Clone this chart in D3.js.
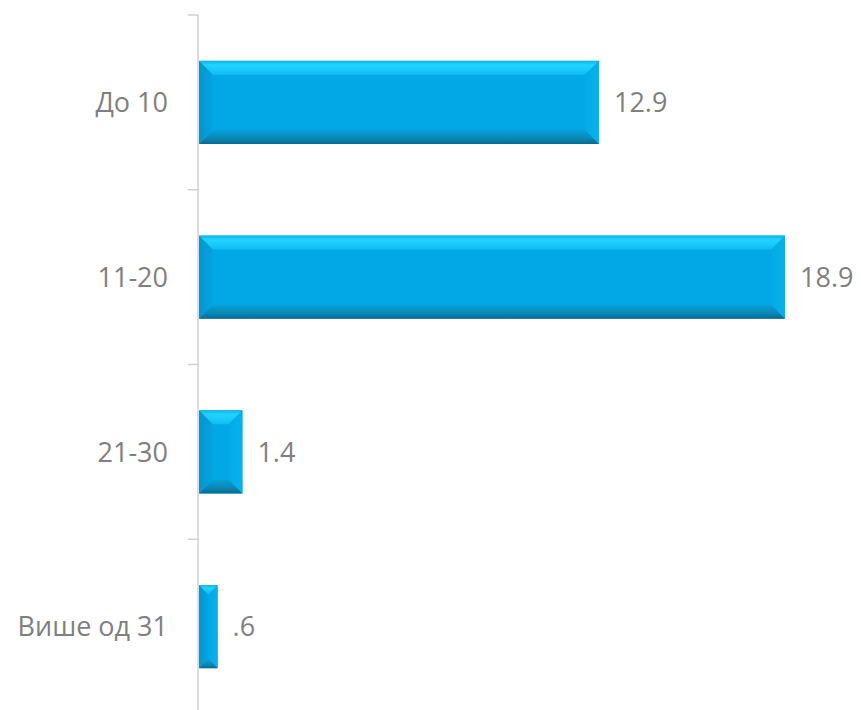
<!DOCTYPE html>
<html>
<head>
<meta charset="utf-8">
<script src="https://cdn.jsdelivr.net/npm/d3@7/dist/d3.min.js"></script>
<style>
  html, body { margin: 0; padding: 0; background: #ffffff; }
  svg { display: block; }
</style>
</head>
<body>
<svg id="chart" width="861" height="710"></svg>
<script>
const categories = ["До 10", "11-20", "21-30", "Више од 31"];
const values = [12.9, 18.9, 1.4, 0.6];
const valueLabels = ["12.9", "18.9", "1.4", ".6"];

const svg = d3.select("#chart");
const W = 861, H = 710;
const axisX = 198;

const x = d3.scaleLinear().domain([0, 18.9]).range([axisX + 1, 785]);
const y = d3.scaleBand().domain(categories).range([15, 714]).paddingInner(0.525).paddingOuter(0.2625);

// gradients
const defs = svg.append("defs");
const gTop = defs.append("linearGradient").attr("id", "gTop").attr("x1", 0).attr("y1", 0).attr("x2", 0).attr("y2", 1);
gTop.append("stop").attr("offset", "0%").attr("stop-color", "#0cb4ec");
gTop.append("stop").attr("offset", "30%").attr("stop-color", "#22d4ff");
gTop.append("stop").attr("offset", "100%").attr("stop-color", "#0fbdf2");
const gBot = defs.append("linearGradient").attr("id", "gBot").attr("x1", 0).attr("y1", 0).attr("x2", 0).attr("y2", 1);
gBot.append("stop").attr("offset", "0%").attr("stop-color", "#06a2da");
gBot.append("stop").attr("offset", "60%").attr("stop-color", "#0a88b6");
gBot.append("stop").attr("offset", "100%").attr("stop-color", "#076b8f");
const gLeft = defs.append("linearGradient").attr("id", "gLeft").attr("x1", 0).attr("y1", 0).attr("x2", 1).attr("y2", 0);
gLeft.append("stop").attr("offset", "0%").attr("stop-color", "#0296cf");
gLeft.append("stop").attr("offset", "100%").attr("stop-color", "#03a5e2");
const gRight = defs.append("linearGradient").attr("id", "gRight").attr("x1", 0).attr("y1", 0).attr("x2", 1).attr("y2", 0);
gRight.append("stop").attr("offset", "0%").attr("stop-color", "#03aae6");
gRight.append("stop").attr("offset", "100%").attr("stop-color", "#06b2ec");

// axis line and ticks
const axis = d3.axisLeft(y).tickSize(0).tickFormat("");
const axG = svg.append("g").attr("transform", `translate(${axisX},0)`).call(axis);
axG.select(".domain").attr("stroke", "#d0d0d0").attr("stroke-width", 1.5).attr("d", `M0,15V710`);
const bounds = [15, 189.75, 364.5, 539.25];
svg.append("g").selectAll("line").data(bounds).join("line")
  .attr("x1", axisX - 10).attr("x2", axisX).attr("y1", d => d).attr("y2", d => d)
  .attr("stroke", "#d0d0d0").attr("stroke-width", 1.5);

// bars
const bars = svg.append("g");
categories.forEach((c, i) => {
  const x0 = x(0), x1 = x(values[i]);
  const y0 = y(c), y1 = y(c) + y.bandwidth();
  const w = x1 - x0, h = y1 - y0;
  const b = Math.min(14, w / 2, h / 2);
  const g = bars.append("g");
  g.append("rect").attr("x", x0).attr("y", y0).attr("width", w).attr("height", h).attr("fill", "#02a8e6");
  const poly = (pts, fill) => g.append("polygon").attr("points", pts.map(p => p.join(",")).join(" ")).attr("fill", fill);
  // left
  poly([[x0, y0], [x0 + b, y0 + b], [x0 + b, y1 - b], [x0, y1]], "url(#gLeft)");
  // right
  poly([[x1, y0], [x1 - b, y0 + b], [x1 - b, y1 - b], [x1, y1]], "url(#gRight)");
  // top
  poly([[x0, y0], [x1, y0], [x1 - b, y0 + b], [x0 + b, y0 + b]], "url(#gTop)");
  // bottom
  poly([[x0, y1], [x1, y1], [x1 - b, y1 - b], [x0 + b, y1 - b]], "url(#gBot)");
});

// value labels
svg.append("g").selectAll("text").data(categories).join("text")
  .attr("x", (d, i) => x(values[i]) + 15)
  .attr("y", d => y(d) + y.bandwidth() / 2)
  .attr("dy", "0.36em")
  .attr("font-family", "'Open Sans', sans-serif")
  .attr("font-size", 27)
  .attr("fill", "#7f7f7f")
  .text((d, i) => valueLabels[i]);

// category labels
svg.append("g").selectAll("text").data(categories).join("text")
  .attr("x", 168)
  .attr("y", d => y(d) + y.bandwidth() / 2)
  .attr("dy", "0.36em")
  .attr("text-anchor", "end")
  .attr("font-family", "'Open Sans', sans-serif")
  .attr("font-size", 27)
  .attr("fill", "#7f7f7f")
  .text(d => d);
</script>
</body>
</html>
